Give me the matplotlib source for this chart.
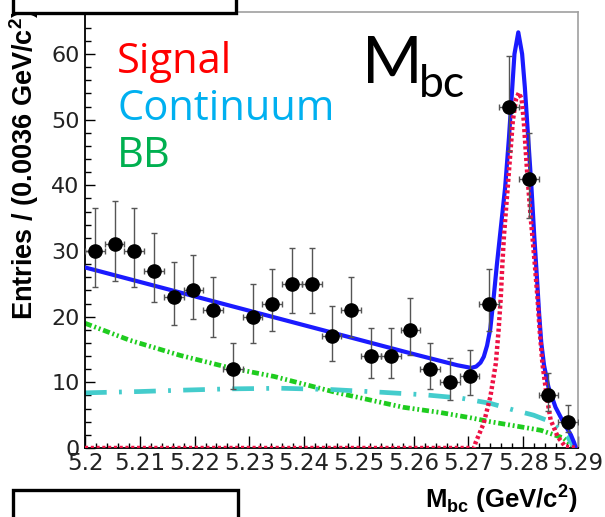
import matplotlib
matplotlib.use("Agg")
import matplotlib.pyplot as plt
from matplotlib.patches import Rectangle

plt.rcParams["mathtext.fontset"] = "custom"
plt.rcParams["mathtext.rm"] = "Liberation Sans:bold"
plt.rcParams["mathtext.bf"] = "Liberation Sans:bold"

# --- data ------------------------------------------------------------------
bin_centers = [5.2018, 5.2054, 5.2090, 5.2126, 5.2162, 5.2198, 5.2234, 5.2270,
               5.2306, 5.2342, 5.2378, 5.2414, 5.2450, 5.2486, 5.2522, 5.2558,
               5.2594, 5.2630, 5.2666, 5.2702, 5.2738, 5.2774, 5.2810, 5.2846,
               5.2882]
entries = [30, 31, 30, 27, 23, 24, 21, 12, 20, 22, 25, 25, 17, 21, 14, 14,
           18, 12, 10, 11, 22, 52, 41, 8, 4]
err_lo = [5.5, 5.6, 5.5, 4.7, 4.3, 4.4, 4.1, 3.0, 4.0, 4.2, 4.5, 4.5, 3.7, 4.1,
          3.3, 3.3, 3.8, 3.0, 2.7, 2.9, 4.2, 6.7, 5.9, 2.4, 1.6]
err_hi = [6.5, 6.6, 6.5, 5.7, 5.3, 5.4, 5.1, 4.0, 5.0, 5.2, 5.5, 5.5, 4.7, 5.1,
          4.3, 4.3, 4.8, 4.0, 3.7, 3.9, 5.2, 7.7, 6.9, 3.4, 2.6]
half_bin = 0.0018

# total fit (blue)
total_x = [5.2000, 5.2100, 5.2200, 5.2300, 5.2400, 5.2500, 5.2600, 5.2680,
           5.2705, 5.2714, 5.2722, 5.2728, 5.2734, 5.2740, 5.2746, 5.2752,
           5.2757, 5.2767, 5.2774, 5.2780, 5.2784, 5.2791, 5.2798, 5.2803,
           5.2809, 5.2815, 5.2820, 5.2825, 5.2829, 5.2833, 5.2838, 5.2846,
           5.2859, 5.2874, 5.2887, 5.2893, 5.2896]
total_y = [27.5, 25.3, 23.1, 20.9, 18.7, 16.5, 14.3, 12.6, 12.2, 12.4, 13.0,
           13.9, 15.6, 18.2, 22.9, 28.0, 31.9, 39.7, 47.3, 54.9, 60.0, 63.3,
           60.0, 54.9, 47.3, 39.7, 32.5, 26.0, 20.5, 16.0, 12.6, 9.3, 6.2,
           3.8, 2.0, 0.8, 0.0]

# signal (red dotted)
signal_x = [5.2000, 5.2710, 5.2713, 5.2728, 5.2740, 5.2750, 5.2755, 5.2759,
            5.2762, 5.2765, 5.2774, 5.2781, 5.2787, 5.2792, 5.2797, 5.2801,
            5.2807, 5.2814, 5.2817, 5.2821, 5.2826, 5.2830, 5.2835, 5.2843,
            5.2850, 5.2863, 5.2877, 5.2900]
signal_y = [0.0, 0.0, 0.8, 3.8, 7.8, 12.9, 17.9, 22.9, 28.1, 32.5, 42.2, 49.8,
            53.2, 54.1, 53.2, 49.8, 42.2, 34.7, 32.0, 28.1, 22.9, 17.9, 12.9,
            7.8, 4.3, 1.7, 0.2, 0.0]

# continuum (cyan dash-dot)
cont_x = [5.2000, 5.2100, 5.2174, 5.2260, 5.2357, 5.2450, 5.2539, 5.2620,
          5.2686, 5.2740, 5.2782, 5.2819, 5.2850, 5.2868, 5.2881, 5.2890,
          5.2893]
cont_y = [8.4, 8.6, 8.8, 9.0, 9.1, 8.9, 8.5, 8.1, 7.6, 6.8, 5.8, 5.0, 4.0,
          2.7, 1.7, 0.5, 0.0]

# BB background (green dash-dot-dot)
bb_x = [5.2000, 5.2082, 5.2174, 5.2265, 5.2345, 5.2461, 5.2581, 5.2649,
        5.2704, 5.2740, 5.2790, 5.2832, 5.2874, 5.2892, 5.2895]
bb_y = [19.0, 16.4, 14.1, 12.2, 10.9, 8.4, 6.2, 5.4, 4.6, 4.0, 3.3, 2.7,
        1.5, 0.2, 0.0]

xticks = [5.20, 5.21, 5.22, 5.23, 5.24, 5.25, 5.26, 5.27, 5.28, 5.29]
xtick_labels = ["5.2", "5.21", "5.22", "5.23", "5.24", "5.25", "5.26",
                "5.27", "5.28", "5.29"]
yticks = [0, 10, 20, 30, 40, 50, 60]
ytick_labels = ["0", "10", "20", "30", "40", "50", "60"]

W, H = 605, 517


def fx(px):
    return px / W


def fy(py):
    return 1 - py / H


fig = plt.figure(figsize=(W / 100, H / 100), dpi=100)
ax = fig.add_axes([fx(85), fy(448), (578 - 85) / W, (448 - 12) / H])

ax.plot(bb_x, bb_y, color="#1fcc1f", lw=3.4,
        linestyle=(0, (1.5, 0.6, 0.4, 0.6, 0.4, 0.6)), zorder=2)
ax.plot(cont_x, cont_y, color="#44cccc", lw=3.4,
        linestyle=(0, (4.6, 2.6, 0.6, 2.6)), zorder=2)
ax.plot(signal_x, signal_y, color="#ee1144", lw=3.2,
        linestyle=(0, (0.7, 0.6)), zorder=4)
ax.plot(total_x, total_y, color="#1a1aff", lw=3.0, zorder=3)

ax.errorbar(bin_centers, entries, xerr=half_bin, yerr=[err_lo, err_hi],
            fmt="o", color="black", ms=9.5, ecolor="#555555",
            elinewidth=1.0, capsize=2.5, capthick=1.0, zorder=5)

ax.set_xlim(5.2, 5.29)
ax.set_ylim(0, 66.4)
ax.set_xticks(xticks)
ax.set_xticklabels(xtick_labels, family="DejaVu Sans", fontsize=16.5,
                   color="#222222")
ax.set_xticks([5.2 + 0.002 * i for i in range(46)], minor=True)
ax.set_yticks(yticks)
ax.set_yticklabels(ytick_labels, family="DejaVu Sans", fontsize=16,
                   color="#222222")
ax.set_yticks(list(range(0, 66, 2)), minor=True)
ax.tick_params(which="both", direction="in", top=False, right=False)
ax.tick_params(axis="x", which="major", length=9, width=1, pad=3)
ax.tick_params(axis="x", which="minor", length=3.5, width=1)
ax.tick_params(axis="y", which="major", length=7, width=1, pad=4)
ax.tick_params(axis="y", which="minor", length=4, width=1)
for side in ("top", "right"):
    ax.spines[side].set_color("#a0a0a0")
    ax.spines[side].set_linewidth(1.2)
for side in ("left", "bottom"):
    ax.spines[side].set_linewidth(1.3)

fig.text(fx(24), fy(8), "Entries / (0.0036 GeV/c$^{2}$)", rotation=90,
         ha="center", va="top", family="Liberation Sans", fontweight="bold",
         fontsize=19.5)
fig.text(fx(578), fy(508), r"M$_{\mathrm{bc}}$ (GeV/c$^{2}$)", ha="right",
         va="baseline", family="Liberation Sans", fontweight="bold",
         fontsize=18.5)

# annotations
fig.text(fx(117), fy(73), "Signal", color="#ff0000", family="Open Sans",
         fontsize=30, va="baseline")
fig.text(fx(117), fy(120), "Continuum", color="#00b0f0", family="Open Sans",
         fontsize=30, va="baseline")
fig.text(fx(117), fy(167), "BB", color="#00b050", family="Open Sans",
         fontsize=30, va="baseline")
fig.text(fx(362), fy(83), "M", color="black", family="Lato", fontsize=47,
         va="baseline")
fig.text(fx(419), fy(97), "bc", color="black", family="Lato", fontsize=32,
         va="baseline")

# blank boxes
fig.patches.append(Rectangle((fx(13), fy(13)), fx(236) - fx(13), 0.1,
                             transform=fig.transFigure, facecolor="white",
                             edgecolor="black", lw=2.4, zorder=10))
fig.patches.append(Rectangle((fx(13), fy(540)), fx(238) - fx(13), fy(490) - fy(540),
                             transform=fig.transFigure, facecolor="white",
                             edgecolor="black", lw=2.4, zorder=10))

fig.savefig("out.png", dpi=100)
